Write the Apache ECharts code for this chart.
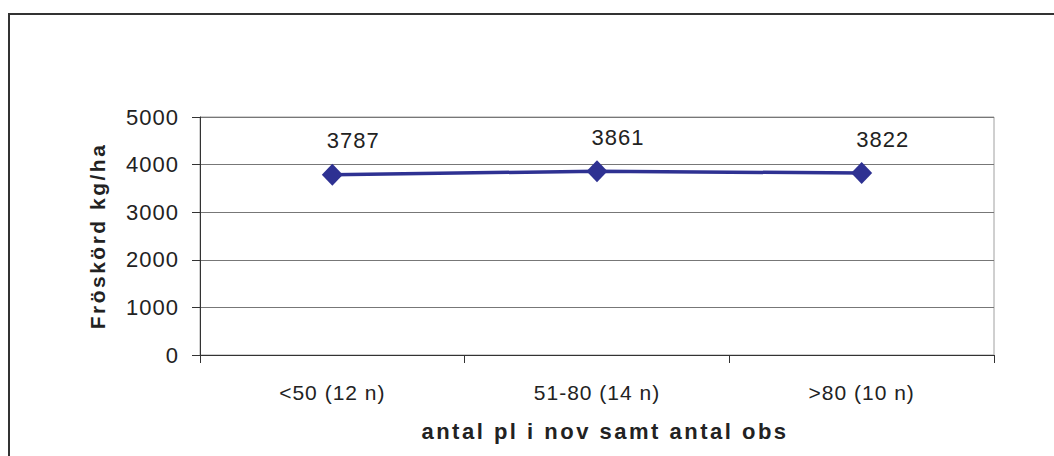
<!DOCTYPE html>
<html>
<head>
<meta charset="utf-8">
<script src="https://cdn.jsdelivr.net/npm/echarts@6/dist/echarts.min.js"></script>
<style>
  html, body { margin: 0; padding: 0; background: #fff; }
  #chart { width: 1054px; height: 456px; }
  #chart svg text { letter-spacing: 1px; }
  #chart svg text[style*="bold"], #chart svg text[font-weight="bold"] { letter-spacing: 2.5px; }
</style>
</head>
<body>
<div id="chart"></div>
<script>
const categories = ['<50 (12 n)', '51-80 (14 n)', '>80 (10 n)'];
const yieldValues = [3787, 3861, 3822];
const yTicks = [0, 1000, 2000, 3000, 4000, 5000];
const xTitle = 'antal pl i nov samt antal obs';
const yTitle = 'Fröskörd kg/ha';

const FONT = '"Liberation Sans", Arial, sans-serif';
const chart = echarts.init(document.getElementById('chart'), null, { renderer: 'svg' });
chart.setOption({
  animation: false,
  backgroundColor: '#ffffff',
  graphic: [{
    type: 'rect', silent: true, z: -10,
    shape: { x: 9, y: 14, width: 1100, height: 500 },
    style: { fill: 'none', stroke: '#333333', lineWidth: 2 }
  }],
  grid: {
    left: 200, top: 117, right: 60, bottom: 101,
    show: true, borderColor: '#a0a0a0', borderWidth: 1, backgroundColor: 'transparent'
  },
  xAxis: {
    type: 'category',
    data: categories,
    boundaryGap: true,
    name: xTitle,
    nameLocation: 'middle',
    nameGap: 65,
    nameTextStyle: { fontFamily: FONT, fontWeight: 'bold', fontSize: 22, color: '#222', padding: [0, 0, 0, 16] },
    axisLine: { lineStyle: { color: '#333', width: 1 } },
    axisTick: { show: true, length: 8, alignWithLabel: false, lineStyle: { color: '#333' } },
    axisLabel: { fontFamily: FONT, fontSize: 21, color: '#222', margin: 27 },
    splitLine: { show: false }
  },
  yAxis: {
    type: 'value',
    min: yTicks[0], max: yTicks[yTicks.length - 1], interval: 1000,
    name: yTitle,
    nameLocation: 'middle',
    nameGap: 92,
    nameTextStyle: { fontFamily: FONT, fontWeight: 'bold', fontSize: 21, color: '#222' },
    axisLine: { show: true, lineStyle: { color: '#333', width: 1 } },
    axisTick: { show: true, length: 8, lineStyle: { color: '#333' } },
    axisLabel: { fontFamily: FONT, fontSize: 22, color: '#222', margin: 21, formatter: v => String(v) },
    splitLine: { show: true, lineStyle: { color: '#777', width: 1 } }
  },
  series: [{
    type: 'line',
    data: yieldValues,
    symbol: 'diamond',
    symbolSize: [21, 22],
    lineStyle: { color: '#2e3192', width: 3.5 },
    itemStyle: { color: '#2e3192' },
    label: { show: true, position: 'top', distance: 12, offset: [21, 0], fontFamily: FONT, fontSize: 22, color: '#222' }
  }]
});
</script>
</body>
</html>
